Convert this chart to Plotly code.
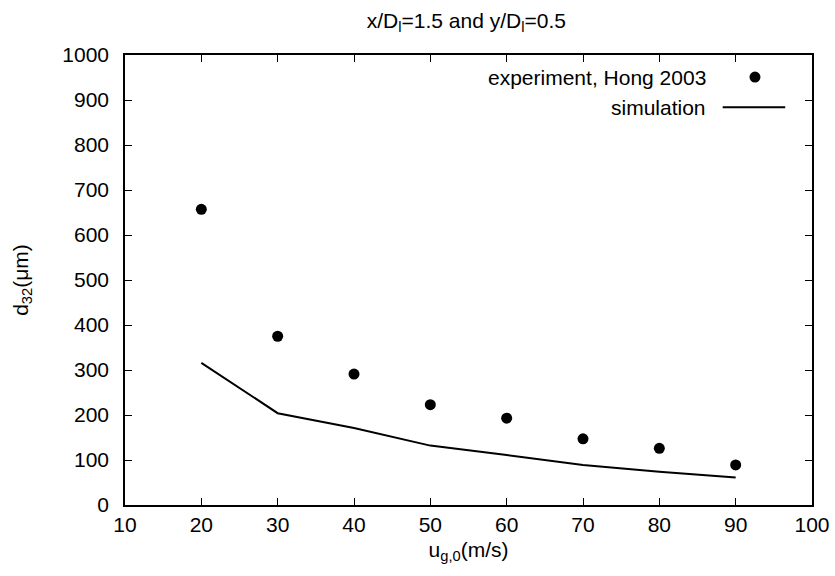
import plotly.graph_objects as go

# Sauter mean diameter vs. gas velocity at x/Dl=1.5, y/Dl=0.5
u_gas = [20, 30, 40, 50, 60, 70, 80, 90]
d32_experiment = [657, 375, 291, 223, 193, 147, 126, 89]
d32_simulation = [316, 204, 171, 132, 111, 89, 74, 61]

x_ticks = [10, 20, 30, 40, 50, 60, 70, 80, 90, 100]
y_ticks = [0, 100, 200, 300, 400, 500, 600, 700, 800, 900, 1000]

FONT = "Liberation Sans, Arial, sans-serif"
FS = 21

fig = go.Figure()
fig.add_trace(go.Scatter(
    x=u_gas, y=d32_experiment, mode="markers",
    marker=dict(color="black", size=11),
    name="experiment, Hong 2003", showlegend=False,
))
fig.add_trace(go.Scatter(
    x=u_gas, y=d32_simulation, mode="lines",
    line=dict(color="black", width=2),
    name="simulation", showlegend=False,
))

axis_common = dict(
    showgrid=False, zeroline=False, showline=True, linecolor="black",
    linewidth=1.5, mirror="allticks", ticks="inside", ticklen=7,
    tickwidth=1, tickcolor="black", automargin=False,
    tickfont=dict(family=FONT, size=FS, color="black"),
)

fig.update_xaxes(range=[10, 100], tickvals=x_ticks, ticklabelstandoff=0,
                 title=dict(text="u<sub>g,0</sub>(m/s)",
                            font=dict(family=FONT, size=FS, color="black"),
                            standoff=7),
                 **axis_common)
fig.update_yaxes(range=[0, 1000], tickvals=y_ticks, ticklabelstandoff=10,
                 title=dict(text="d<sub>32</sub>(\u03bcm)",
                            font=dict(family=FONT, size=FS, color="black"),
                            standoff=28),
                 **axis_common)

# Key in the upper right: text right-aligned with its sample beside it
key_text_x = 0.8486
key_rows_y = [0.951, 0.884]
fig.add_annotation(xref="paper", yref="paper", x=key_text_x, y=key_rows_y[0],
                   xanchor="right", yanchor="middle", showarrow=False,
                   text="experiment, Hong 2003",
                   font=dict(family=FONT, size=FS, color="black"))
fig.add_annotation(xref="paper", yref="paper", x=key_text_x, y=key_rows_y[1],
                   xanchor="right", yanchor="middle", showarrow=False,
                   text="simulation",
                   font=dict(family=FONT, size=FS, color="black"))
fig.add_shape(type="circle", xref="paper", yref="paper",
              xsizemode="pixel", ysizemode="pixel",
              xanchor=0.917, yanchor=key_rows_y[0],
              x0=-5.5, x1=5.5, y0=-5.5, y1=5.5,
              fillcolor="black", line=dict(color="black", width=0))
fig.add_shape(type="line", xref="paper", yref="paper",
              x0=0.870, x1=0.961, y0=key_rows_y[1], y1=key_rows_y[1],
              line=dict(color="black", width=2))

fig.update_layout(
    width=835, height=576,
    margin=dict(l=125, r=23, t=55, b=71, autoexpand=False),
    paper_bgcolor="white", plot_bgcolor="white",
    title=dict(text="x/D<sub>l</sub>=1.5 and y/D<sub>l</sub>=0.5",
               x=0.5585, xanchor="center", y=0.965, yanchor="middle",
               font=dict(family=FONT, size=FS, color="black")),
    showlegend=False,
)

fig.write_html("out.html")
